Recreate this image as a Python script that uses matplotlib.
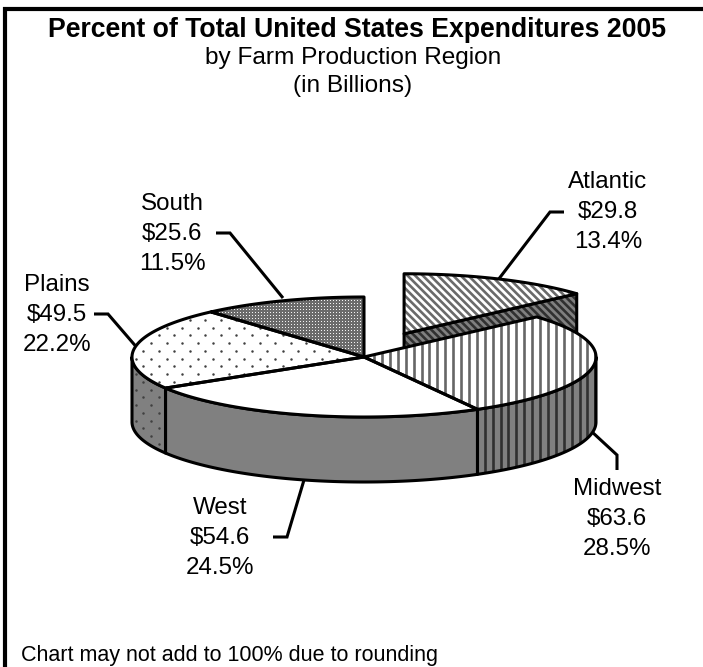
import numpy as np
import matplotlib
matplotlib.use("Agg")
import matplotlib.pyplot as plt
from matplotlib.collections import LineCollection
from matplotlib.patches import Polygon

plt.rcParams['font.family'] = ['Liberation Sans', 'DejaVu Sans']

# clockwise from 12 o'clock
regions = ['Atlantic', 'Midwest', 'West', 'Plains', 'South']
dollars = [29.8, 63.6, 54.6, 49.5, 25.6]
percents = [13.4, 28.5, 24.5, 22.2, 11.5]

# pie geometry, in pixels
cx, cy = 364, 357
rx, ry = 232, 60
depth = 65
explode = 0.424  # only Atlantic
lw = 2.2

edges = np.concatenate([[0], np.cumsum(dollars)]) / np.sum(dollars) * 2 * np.pi


def rim(a0, a1, ox=0, oy=0):
    t = np.linspace(a0, a1, max(int((a1 - a0) * 80), 2))
    return np.column_stack([ox + rx * np.sin(t), oy - ry * np.cos(t)])


def add_poly(ax, pts, color, z):
    p = Polygon(pts, closed=True, facecolor=color, edgecolor='none', zorder=z)
    ax.add_patch(p)
    return p


def outline(ax, pts, z):
    p = Polygon(pts, closed=True, fill=False, edgecolor='black', lw=lw,
                joinstyle='round', zorder=z)
    ax.add_patch(p)


def lines_pattern(ax, clip, dx, slope, color, width, z):
    # slope is x shift per pixel of y, 0 gives vertical lines
    xs = np.arange(-400, 1100, dx)
    segs = [[(x, 0), (x + slope * 667, 667)] for x in xs]
    lc = LineCollection(segs, colors=color, linewidths=width, zorder=z)
    ax.add_collection(lc)
    lc.set_clip_path(clip)


def dots_pattern(ax, clip, z):
    xs, ys = [], []
    for i, y in enumerate(np.arange(250, 470, 7.75)):
        shift = 7.75 if i % 2 else 0
        for x in np.arange(120, 420, 15.5):
            xs.append(x + shift)
            ys.append(y)
    sc = ax.scatter(xs, ys, s=3.2, color='#404040', linewidths=0, zorder=z)
    sc.set_clip_path(clip)


def checker_pattern(ax, clip, z):
    h, w = np.mgrid[0:667, 0:703]
    img = np.full(h.shape, 0.42)
    img[(h % 3 == 0) & (w % 3 == 0)] = 0.95
    im = ax.imshow(img, cmap='gray', vmin=0, vmax=1, extent=(0, 703, 667, 0),
                   interpolation='nearest', aspect='auto', zorder=z)
    im.set_clip_path(clip)


def style_pattern(ax, name, clip, z, side=False):
    if name == 'Atlantic':
        lines_pattern(ax, clip, 7.6, 1.0, '#303030' if side else '#6a6a6a', 1.9, z)
    elif name == 'Midwest':
        lines_pattern(ax, clip, 7.9, 0, '#303030' if side else '#666666', 1.9, z)
    elif name == 'Plains':
        dots_pattern(ax, clip, z)
    elif name == 'South':
        checker_pattern(ax, clip, z)


fig = plt.figure(figsize=(7.03, 6.67), dpi=100)
ax = fig.add_axes([0, 0, 1, 1])

# exploded slice sits behind the rest of the pie
a0, a1 = edges[0], edges[1]
mid = (a0 + a1) / 2
ox = cx + explode * rx * np.sin(mid)
oy = cy - explode * ry * np.cos(mid)
end = rim(a1, a1, ox, oy)[0]
cut = [(ox, oy), end, (end[0], end[1] + depth), (ox, oy + depth)]
p = add_poly(ax, cut, '#808080', 1)
style_pattern(ax, 'Atlantic', p, 1.1, side=True)
outline(ax, cut, 1.2)
top = np.vstack([[(ox, oy)], rim(a0, a1, ox, oy)])
p = add_poly(ax, top, 'white', 1.3)
style_pattern(ax, 'Atlantic', p, 1.4)
outline(ax, top, 1.5)

# front wall and top of the other slices
for i in range(1, len(regions)):
    a0, a1 = edges[i], edges[i + 1]
    s0, s1 = max(a0, np.pi / 2), min(a1, 3 * np.pi / 2)
    if s1 > s0:
        arc = rim(s0, s1, cx, cy)
        wall = np.vstack([arc, arc[::-1] + [0, depth]])
        p = add_poly(ax, wall, '#808080', 2)
        style_pattern(ax, regions[i], p, 2.1, side=True)
        outline(ax, wall, 2.2)
    top = np.vstack([[(cx, cy)], rim(a0, a1, cx, cy)])
    p = add_poly(ax, top, 'white', 3)
    style_pattern(ax, regions[i], p, 3.1)
    outline(ax, top, 3.2)

# labels and their leaders
label_pos = [(608, 212), (617, 519), (220, 538), (57, 315), (172, 234)]
leaders = [
    [(564, 212), (550, 212), (498, 280)],
    [(617, 470), (617, 455), (591, 431)],
    [(273, 537), (287, 537), (304, 480)],
    [(94, 314), (108, 314), (139, 350)],
    [(216, 233), (230, 233), (283, 298)],
]
for name, d, pct, (x, y), lead in zip(regions, dollars, percents, label_pos, leaders):
    ax.text(x, y - 29.8, name, fontsize=17.4, ha='center', va='center')
    ax.text(x, y, f'${d:.1f}', fontsize=17.4, ha='center', va='center')
    ax.text(x, y + 29.8, f'{pct:.1f}%', fontsize=17.4, ha='center', va='center')
    ax.plot(*zip(*lead), color='black', lw=lw, solid_capstyle='butt',
            solid_joinstyle='miter', zorder=0.5)

ax.text(357, 30, 'Percent of Total United States Expenditures 2005', fontsize=19.2,
        fontweight='bold', ha='center', va='center')
ax.text(353, 58, 'by Farm Production Region', fontsize=17.6, ha='center', va='center')
ax.text(353, 86, '(in Billions)', fontsize=17.6, ha='center', va='center')
ax.text(21, 655, 'Chart may not add to 100% due to rounding', fontsize=15.5,
        ha='left', va='center')

# frame is only on the left and the top
ax.plot([5, 5], [7, 667], color='black', lw=3.0, solid_capstyle='butt')
ax.plot([3, 703], [9, 9], color='black', lw=3.0, solid_capstyle='butt')

ax.set_xlim(0, 703)
ax.set_ylim(667, 0)
ax.axis('off')

fig.savefig('out.png', dpi=100)
